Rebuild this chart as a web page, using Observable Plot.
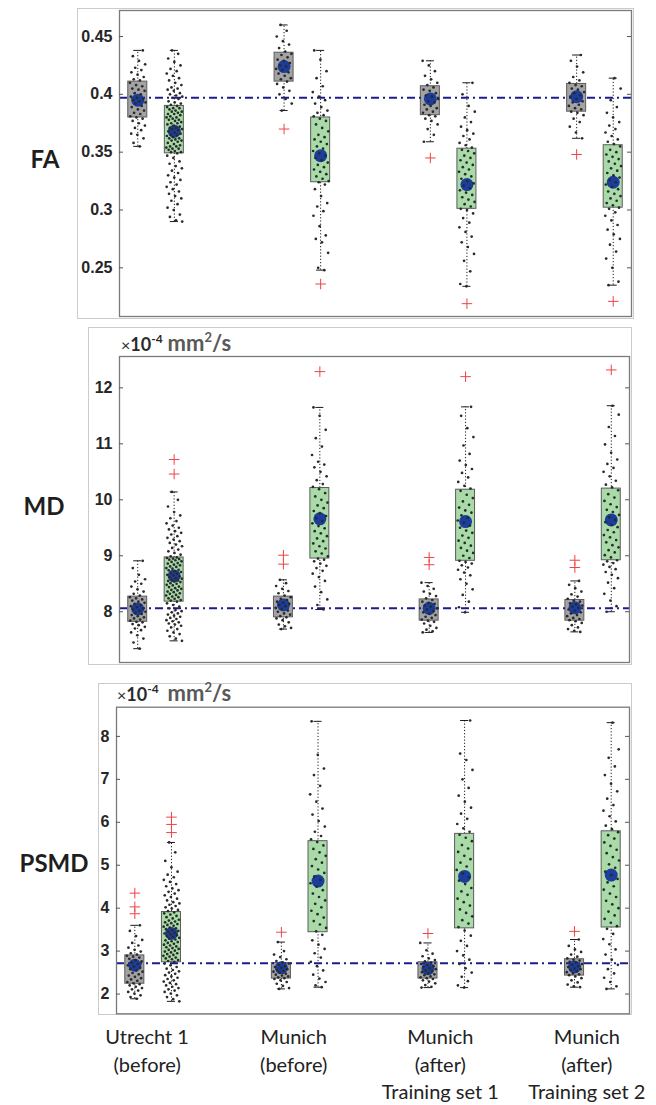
<!DOCTYPE html>
<html>
<head>
<meta charset="utf-8">
<script src="https://cdn.jsdelivr.net/npm/d3@7"></script>
<script src="https://cdn.jsdelivr.net/npm/@observablehq/plot@0.6"></script>
<style>
  body { margin: 0; background: #fff; }
  #fig { position: relative; width: 656px; height: 1105px; overflow: hidden; }
  .slot { position: absolute; left: 0; }
  .outer { position: absolute; border: 1px solid #cbcbcb; box-sizing: border-box; }
  .metric { position: absolute; transform: translate(-50%, -50%); font-family: Lato, sans-serif;
            font-weight: 700; font-size: 24px; color: #1e1e1e; white-space: nowrap; }
  .unit { position: absolute; font-family: Lato, sans-serif; white-space: nowrap; color: #2a2a2a; line-height: 1; }
  .unit .x { font-size: 16px; }
  .unit .p { font-size: 18px; font-weight: 700; }
  .unit sup { font-size: 12px; font-weight: 700; vertical-align: 8px; }
  .unit .u { font-size: 22px; font-weight: 700; color: #595959; }
  .unit .u sup { font-size: 13px; vertical-align: 9px; color: #595959; }
</style>
</head>
<body>
<div id="fig"></div>
<script>
// Four acquisition conditions, two cohorts (A = grey, B = green) each
const siteLabels = [
  "Utrecht 1\n(before)",
  "Munich\n(before)",
  "Munich\n(after)\nTraining set 1",
  "Munich\n(after)\nTraining set 2"
];
const site = [0, 0, 1, 1, 2, 2, 3, 3];
const cohort = ["A", "B", "A", "B", "A", "B", "A", "B"];

// ---- FA (values in thousandths) ----
const faQ1 = [380, 349, 411, 324, 382, 301, 385, 302];
const faQ3 = [411, 390, 436, 380, 407, 353, 409, 356];
const faLo = [355, 290, 386, 248, 359, 234, 362, 235];
const faHi = [438, 438, 460, 438, 429, 410, 434, 414];
const faMean = [395, 368, 424, 347, 396, 322, 398, 324];
const faOutliers = [[], [], [370], [236], [345], [219], [348], [221]];
const faRef = 397;
const faPoints = [
  [355,358,362,365,366,369,371,373,375,377,379,380,381,383,384,386,387,389,390,392,393,394,395,396,397,398,400,401,403,404,405,407,408,410,412,413,415,417,419,421,423,426,429,433,438],
  [290,291,294,296,300,302,305,308,310,312,314,316,318,320,322,324,326,328,330,332,334,336,338,340,342,345,347,349,350,350,351,352,353,353,354,355,355,356,357,358,359,360,360,361,362,362,363,364,365,365,366,367,368,369,370,370,371,371,372,373,374,375,375,376,377,378,378,379,380,380,381,382,383,383,384,385,385,386,387,388,388,389,390,391,392,393,394,396,397,398,399,400,401,403,404,405,406,408,410,412,414,416,418,420,422,425,428,431,435,438],
  [386,392,396,400,403,406,409,411,413,414,416,418,419,421,422,424,425,427,429,430,432,434,435,437,440,443,446,450,455,460],
  [248,250,263,272,275,278,286,295,299,303,306,312,318,322,324,325,327,329,331,333,335,337,339,341,343,345,347,349,351,353,355,357,359,361,363,365,368,371,374,377,379,381,382,384,386,389,392,395,398,402,407,414,420,430,438],
  [359,365,370,374,377,379,381,382,384,385,387,388,390,391,393,394,396,398,399,401,403,404,406,408,410,413,416,420,425,429],
  [234,236,247,256,262,268,272,277,281,285,289,293,297,300,301,303,305,307,309,311,313,315,317,319,321,323,325,327,329,331,333,335,337,339,341,343,345,347,349,351,352,354,356,358,361,364,366,369,372,376,380,385,390,400,410],
  [362,367,372,376,379,382,384,385,387,388,390,391,393,394,396,398,399,401,402,404,405,407,408,410,412,415,419,424,429,434],
  [235,238,250,258,264,270,275,279,283,287,291,295,298,301,302,304,306,308,310,312,314,316,318,320,322,324,326,328,330,332,334,336,338,340,342,344,346,348,350,352,355,357,359,361,364,367,370,373,376,380,384,389,395,405,414]
];
const faTicks = [0.25, 0.3, 0.35, 0.4, 0.45];

// ---- MD (x1e-4 mm^2/s, values in hundredths) ----
const mdQ1 = [782, 818, 790, 895, 784, 891, 784, 892];
const mdQ3 = [827, 897, 827, 1021, 822, 1018, 821, 1020];
const mdLo = [734, 748, 769, 804, 763, 799, 764, 800];
const mdHi = [891, 1014, 857, 1165, 852, 1166, 855, 1168];
const mdMean = [805, 864, 812, 966, 806, 961, 807, 964];
const mdOutliers = [[], [1072, 1046], [901, 885], [1229], [897, 884], [1220], [892, 879], [1232]];
const mdRef = 806;
const mdPoints = [
  [734,745,752,758,763,767,770,773,776,778,781,782,784,786,788,790,792,794,796,798,800,802,804,806,808,810,812,814,816,818,820,822,824,826,829,832,836,840,845,850,854,858,866,878,891],
  [748,752,756,760,763,766,769,772,775,777,779,781,783,785,787,789,791,793,795,797,799,801,803,806,809,812,815,818,820,821,823,824,826,827,829,830,832,833,835,836,838,839,841,842,844,845,847,848,850,851,853,854,855,856,857,859,860,862,863,865,866,868,869,871,872,874,875,877,878,880,881,883,884,886,887,889,890,892,893,894,895,896,897,899,902,905,908,911,914,917,920,923,926,929,932,935,938,941,944,947,950,954,958,962,967,972,978,988,1000,1014],
  [769,771,774,777,781,785,788,790,792,795,797,800,802,805,807,810,812,814,816,818,821,823,826,829,833,837,841,846,851,857],
  [804,812,822,835,845,855,862,868,873,878,882,886,890,893,895,899,904,908,913,917,922,926,931,935,940,944,949,953,958,962,967,971,976,980,985,990,995,1000,1006,1012,1019,1023,1028,1035,1042,1050,1058,1063,1068,1080,1095,1110,1125,1150,1165],
  [763,765,768,771,775,779,782,784,786,789,791,794,796,799,801,804,806,809,811,814,816,818,821,824,828,832,836,841,846,852],
  [799,808,818,830,840,850,858,865,870,875,879,883,886,889,891,896,900,905,909,914,918,923,927,932,936,941,945,950,954,959,963,968,972,977,981,986,991,997,1003,1009,1016,1020,1025,1032,1040,1048,1055,1062,1070,1082,1097,1112,1128,1150,1166],
  [764,766,769,772,776,780,783,785,787,789,792,794,797,799,802,804,807,809,811,813,815,818,820,823,827,831,836,842,848,855],
  [800,810,820,832,842,852,860,866,871,876,880,884,887,890,892,897,901,906,910,915,919,924,928,933,937,942,946,951,955,960,964,969,973,978,982,987,992,998,1004,1010,1017,1022,1027,1034,1042,1050,1057,1064,1072,1084,1099,1114,1130,1152,1168]
];
const mdTicks = [8, 9, 10, 11, 12];

// ---- PSMD (x1e-4 mm^2/s, values in hundredths) ----
const psmdQ1 = [224, 274, 236, 344, 236, 353, 243, 355];
const psmdQ3 = [290, 391, 272, 556, 274, 573, 281, 579];
const psmdLo = [189, 183, 212, 216, 215, 215, 216, 212];
const psmdHi = [360, 553, 321, 835, 319, 837, 327, 832];
const psmdMean = [267, 341, 261, 463, 259, 474, 263, 477];
const psmdOutliers = [[435, 403, 387], [612, 595, 576], [344], [], [341], [], [346], []];
const psmdRef = 272;
const psmdPoints = [
  [189,193,197,201,205,208,211,214,217,220,223,225,228,231,234,237,240,243,246,249,252,255,258,261,264,267,270,273,276,279,282,285,287,289,292,295,299,303,308,313,319,326,335,347,360],
  [183,188,193,197,201,205,208,211,214,217,220,223,226,229,232,235,238,241,244,247,250,253,256,259,263,267,271,275,277,279,281,283,285,287,289,291,293,295,297,299,301,303,305,307,309,311,313,315,317,319,321,323,325,327,329,331,333,335,337,339,341,343,345,347,349,351,353,355,357,359,361,363,365,367,369,371,373,376,379,382,385,388,390,393,396,399,402,405,408,411,414,418,422,426,430,434,438,442,446,451,456,461,466,472,478,485,495,510,530,553],
  [212,214,219,224,228,232,235,237,239,241,243,245,247,250,252,254,256,258,261,263,265,268,271,274,277,281,286,292,300,321],
  [216,220,228,236,245,255,265,275,285,295,305,315,325,338,346,354,362,370,378,386,394,402,410,418,426,434,442,450,458,466,474,482,490,498,506,514,522,530,538,546,554,560,568,578,590,603,618,632,648,665,685,710,725,757,835],
  [215,217,221,225,229,232,235,237,239,241,244,246,248,251,253,255,258,260,262,265,267,270,273,276,279,283,288,294,302,319],
  [215,220,230,240,250,260,270,280,290,300,312,324,336,348,356,364,372,381,389,397,406,414,422,431,439,447,456,464,472,481,489,497,506,514,522,531,539,547,556,564,571,578,586,596,608,620,634,648,662,680,700,722,745,760,837],
  [216,218,222,227,232,237,241,244,246,248,251,253,256,258,260,263,265,268,270,273,275,278,280,283,287,292,298,304,312,327],
  [212,218,228,238,248,258,268,280,292,304,316,328,340,352,358,366,375,383,392,400,409,417,426,434,443,451,460,468,477,485,494,502,511,519,528,536,545,553,562,570,577,584,592,602,614,627,640,655,672,690,710,730,750,770,832]
];
const psmdTicks = [2, 3, 4, 5, 6, 7, 8];

// ---- drawing ----
const GRAY = "#a3a3a3";
const GREEN = "#a8dba8";
const slotX = (s, c) => s * 4 + (c === "B" ? 2 : 1);

function boxPanel(p) {
  const k = p.scale;
  const stats = site.map((s, i) => ({
    pos: slotX(s, cohort[i]),
    fill: cohort[i] === "B" ? GREEN : GRAY,
    q1: p.q1[i] / k, q3: p.q3[i] / k, lo: p.lo[i] / k, hi: p.hi[i] / k, mean: p.mean[i] / k
  }));
  const dots = p.points.flatMap((arr, i) => arr.map((v, j) => ({pos: stats[i].pos, v: v / k, j, i})));
  const outs = p.outliers.flatMap((arr, i) => arr.map(v => ({pos: stats[i].pos, v: v / k})));
  // spread the individual subjects sideways so they do not overlap
  const spread = d => d.pos + ((((d.j + 1) * 0.6180339887 + d.i * 0.37) % 1) - 0.5) * 0.44;
  const innerW = p.width - p.ml - p.mr;
  return Plot.plot({
    width: p.width, height: p.height,
    marginTop: p.mt, marginBottom: p.mb, marginLeft: p.ml, marginRight: p.mr,
    style: {background: "transparent", overflow: "visible", color: "#262626"},
    x: {type: "linear", domain: [0.5, 14.5], axis: null},
    y: {domain: p.domain},
    color: {type: "identity"},
    marks: [
      Plot.ruleX(stats, {x: "pos", y1: "lo", y2: "hi", stroke: "#1a1a1a", strokeWidth: 1, strokeDasharray: "1.2,2"}),
      Plot.ruleY(stats, {y: "lo", x1: d => d.pos - 0.11, x2: d => d.pos + 0.11, stroke: "#1a1a1a", strokeWidth: 1}),
      Plot.ruleY(stats, {y: "hi", x1: d => d.pos - 0.11, x2: d => d.pos + 0.11, stroke: "#1a1a1a", strokeWidth: 1}),
      Plot.rect(stats, {x1: d => d.pos - 0.26, x2: d => d.pos + 0.26, y1: "q1", y2: "q3",
                        fill: "fill", stroke: "#5c5c5c", strokeWidth: 1}),
      Plot.ruleY([p.ref / k], {stroke: "#1c1c8c", strokeWidth: 2, strokeDasharray: "8,4,2,4"}),
      Plot.dot(stats, {x: "pos", y: "mean", r: 6.5, fill: "#1b3d9c"}),
      Plot.dot(dots, {x: spread, y: "v", r: 1.35, fill: "#2a2a2a"}),
      Plot.dot(outs, {x: "pos", y: "v", symbol: "plus", r: 3.5, stroke: "#ee4444", strokeWidth: 1}),
      Plot.frame({stroke: "#7a7a7a", strokeWidth: 1.3}),
      Plot.tickY(p.ticks, {y: d => d, insetRight: innerW - 4, stroke: "#555"}),
      Plot.tickY(p.ticks, {y: d => d, insetLeft: innerW - 4, stroke: "#555"}),
      Plot.axisY(p.ticks, {tickSize: 0, tickPadding: 7, tickFormat: d => String(d),
        fontSize: 16, fontWeight: "bold", fontFamily: "'Liberation Sans', Arial, sans-serif", fill: "#262626"})
    ]
  });
}

const fig = document.getElementById("fig");
function place(node, top) {
  const div = document.createElement("div");
  div.className = "slot";
  div.style.top = top + "px";
  div.appendChild(node);
  fig.appendChild(div);
}
function outer(l, t, r, b) {
  const d = document.createElement("div");
  d.className = "outer";
  Object.assign(d.style, {left: l + "px", top: t + "px", width: (r - l) + "px", height: (b - t) + "px"});
  fig.appendChild(d);
}
function metric(text, x, y) {
  const d = document.createElement("div");
  d.className = "metric";
  d.textContent = text;
  Object.assign(d.style, {left: x + "px", top: y + "px"});
  fig.appendChild(d);
}
function unit(x, y, gap) {
  const d = document.createElement("div");
  d.className = "unit";
  d.innerHTML = `<span class="x">×</span><span class="p">10</span><sup>-4</sup><span class="u" style="margin-left:${gap}px">mm<sup>2</sup>/s</span>`;
  Object.assign(d.style, {left: x + "px", top: y + "px"});
  fig.appendChild(d);
}

outer(77, 8, 634, 319);
outer(88, 327, 632, 665);
outer(98, 683, 632, 1015);

place(boxPanel({q1: faQ1, q3: faQ3, lo: faLo, hi: faHi, mean: faMean, outliers: faOutliers, points: faPoints,
  scale: 1000, ref: faRef, domain: [0.2079, 0.4725], ticks: faTicks,
  width: 656, height: 326, mt: 10, mb: 10, ml: 119, mr: 25}), 0);

place(boxPanel({q1: mdQ1, q3: mdQ3, lo: mdLo, hi: mdHi, mean: mdMean, outliers: mdOutliers, points: mdPoints,
  scale: 100, ref: mdRef, domain: [7.093, 12.56], ticks: mdTicks,
  width: 656, height: 340, mt: 26, mb: 8, ml: 119, mr: 27}), 330);

place(boxPanel({q1: psmdQ1, q3: psmdQ3, lo: psmdLo, hi: psmdHi, mean: psmdMean, outliers: psmdOutliers, points: psmdPoints,
  scale: 100, ref: psmdRef, domain: [1.54, 8.68], ticks: psmdTicks,
  width: 656, height: 330, mt: 16.7, mb: 6.7, ml: 116, mr: 27}), 690);

// condition labels under the bottom panel, on the same x scale
place(Plot.plot({
  width: 656, height: 88, marginTop: 0, marginBottom: 0, marginLeft: 116, marginRight: 27,
  style: {background: "transparent", overflow: "visible"},
  x: {type: "linear", domain: [0.5, 14.5], axis: null},
  marks: [
    Plot.text(siteLabels, {x: (d, i) => slotX(i, "A") + 0.5, text: d => d, frameAnchor: "top", lineAnchor: "top",
      dx: -6, fontSize: 20, lineHeight: 1.38, fontFamily: "Lato, sans-serif", fill: "#222"})
  ]
}), 1024);

metric("FA", 45, 158);
metric("MD", 44, 505);
metric("PSMD", 54, 862);
unit(121, 331, 5);
unit(117, 681, 9);
</script>
</body>
</html>
